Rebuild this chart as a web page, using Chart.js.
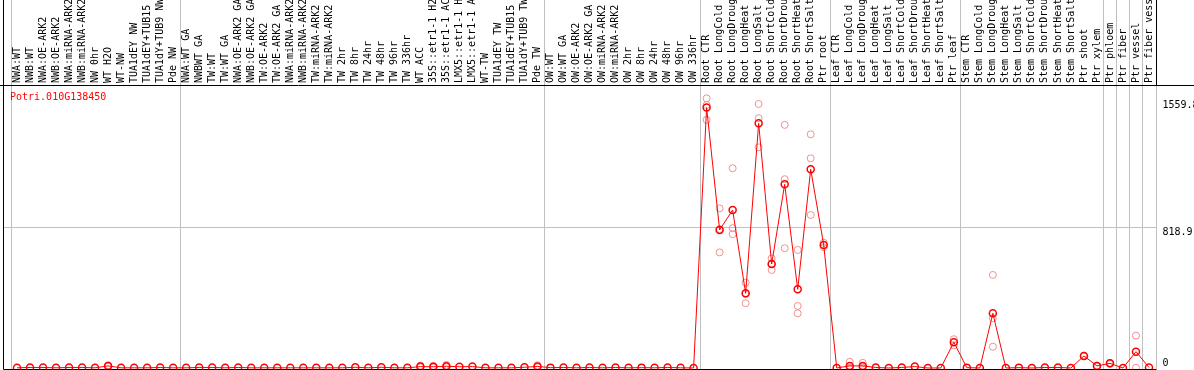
<!DOCTYPE html>
<html>
<head>
<meta charset="utf-8">
<script src="https://cdn.jsdelivr.net/npm/chart.js@4"></script>
<style>
  html, body { margin: 0; padding: 0; background: #fff; }
</style>
</head>
<body>
<canvas id="efpChart" width="1194" height="370"></canvas>
<script>
const geneId = "Potri.010G138450";

const samples = [
    "NWA:WT", "NWB:WT", "NWA:OE-ARK2", "NWB:OE-ARK2", "NWA:miRNA-ARK2", "NWB:miRNA-ARK2",
    "NW 0hr", "WT H2O", "WT-NW", "TUA1dEY NW", "TUA1dEY+TUB15 NW", "TUA1dY+TUB9 NW", "Pde NW",
    "NWA:WT GA", "NWBWT GA", "TW:WT", "TW:WT GA", "NWA:OE-ARK2 GA", "NWB:OE-ARK2 GA",
    "TW:OE-ARK2", "TW:OE-ARK2 GA", "NWA:miRNA-ARK2 GA", "NWB:miRNA-ARK2 GA", "TW:miRNA-ARK2",
    "TW:miRNA-ARK2 GA", "TW 2hr", "TW 8hr", "TW 24hr", "TW 48hr", "TW 96hr", "TW 336hr", "WT ACC",
    "35S::etr1-1 H2O", "35S::etr1-1 ACC", "LMX5::etr1-1 H2O", "LMX5::etr1-1 ACC", "WT-TW",
    "TUA1dEY TW", "TUA1dEY+TUB15 TW", "TUA1dY+TUB9 TW", "Pde TW",
    "OW:WT", "OW:WT GA", "OW:OE-ARK2", "OW:OE-ARK2 GA", "OW:miRNA-ARK2", "OW:miRNA-ARK2 GA",
    "OW 2hr", "OW 8hr", "OW 24hr", "OW 48hr", "OW 96hr", "OW 336hr",
    "Root CTR", "Root LongCold", "Root LongDrought", "Root LongHeat", "Root LongSalt",
    "Root ShortCold", "Root ShortDrought", "Root ShortHeat", "Root ShortSalt", "Ptr root",
    "Leaf CTR", "Leaf LongCold", "Leaf LongDrought", "Leaf LongHeat", "Leaf LongSalt",
    "Leaf ShortCold", "Leaf ShortDrought", "Leaf ShortHeat", "Leaf ShortSalt", "Ptr leaf",
    "Stem CTR", "Stem LongCold", "Stem LongDrought", "Stem LongHeat", "Stem LongSalt",
    "Stem ShortCold", "Stem ShortDrought", "Stem ShortHeat", "Stem ShortSalt",
    "Ptr shoot", "Ptr xylem", "Ptr phloem", "Ptr fiber", "Ptr vessel", "Ptr fiber vessel"
];

// boundaries between sample groups (in category units)
const groupEdges = [-0.5, 12.5, 40.5, 52.5, 62.5, 72.5, 83.5, 84.5, 85.5, 86.5, 87.5];

const meanValues = [
    1, 3, 3, 1, 3, 3, 1, 12, 1, 1, 1, 3, 1,
    1, 3, 3, 1, 3, 1, 1, 1, 1, 1, 1, 1, 1, 4, 1, 4, 1, 1, 8, 7, 10, 7, 8, 1, 1, 1, 4, 9,
    2, 3, 1, 3, 1, 3, 1, 2, 1, 3, 1, 0,
    1520, 806, 922, 436, 1428, 607, 1072, 459, 1160, 718,
    0, 12, 12, 3, 0, 3, 8, 0, 0, 150,
    2, 0, 319, 0, 2, 0, 3, 3, 0, 70, 12, 27, 0, 95, 3
];

// individual replicate values, keyed by sample index
const replicateValues = {
    7: [16, 10, 10],
    31: [14, 5, 5],
    32: [12, 5, 4],
    33: [18, 6, 6],
    40: [16, 6, 5],
    53: [1574, 1535, 1448],
    54: [932, 811, 675],
    55: [1166, 816, 781],
    56: [498, 432, 378],
    57: [1541, 1458, 1288],
    58: [640, 607, 572],
    59: [1419, 1102, 699],
    60: [689, 362, 319],
    61: [1364, 1224, 893],
    62: [731, 705],
    64: [36, 0, 0],
    65: [30, 3, 3],
    72: [168, 132],
    75: [543, 290, 124],
    82: [72, 68],
    83: [14, 10],
    84: [30, 24],
    86: [189, 1]
};

const yTicks = [0, 818.9, 1559.8];
const yTickLabels = ["0", "818.9", "1559.8"];

const monoFont = { family: "'DejaVu Sans Mono', monospace", size: 10, lineHeight: 1 };

const meanPoints = meanValues.map((v, i) => ({ x: i, y: v }));
const replicatePoints = [];
Object.keys(replicateValues).forEach(key => {
    replicateValues[key].forEach(v => replicatePoints.push({ x: Number(key), y: v }));
});

const frameLines = {
    id: "frameLines",
    beforeDatasetsDraw(chart) {
        const { ctx, chartArea, scales } = chart;
        ctx.save();
        ctx.lineWidth = 1;
        ctx.strokeStyle = "#c0c0c0";
        groupEdges.forEach(edge => {
            const x = Math.round(scales.x.getPixelForValue(edge)) + 0.5;
            ctx.beginPath();
            ctx.moveTo(x, 0);
            ctx.lineTo(x, chartArea.bottom);
            ctx.stroke();
        });
        ctx.fillStyle = "#ff0000";
        ctx.font = "10px 'DejaVu Sans Mono', monospace";
        ctx.textBaseline = "middle";
        ctx.fillText(geneId, chartArea.left + 6, chartArea.top + 11);
        ctx.restore();
    },
    afterDatasetsDraw(chart) {
        const { ctx, chartArea, scales } = chart;
        ctx.save();
        ctx.lineWidth = 1;
        ctx.strokeStyle = "#000";
        const top = Math.round(chartArea.top) - 0.5;
        const bottom = Math.round(chartArea.bottom) + 0.5;
        const left = Math.round(chartArea.left) - 0.5;
        const lastEdge = Math.round(scales.x.getPixelForValue(87.5)) + 0.5;
        ctx.beginPath();
        ctx.moveTo(0, top);
        ctx.lineTo(chart.width, top);
        ctx.moveTo(left, 0);
        ctx.lineTo(left, bottom);
        ctx.moveTo(left, bottom);
        ctx.lineTo(lastEdge, bottom);
        ctx.moveTo(lastEdge, 0);
        ctx.lineTo(lastEdge, top);
        ctx.stroke();
        ctx.restore();
    }
};

const ctx = document.getElementById("efpChart").getContext("2d");

new Chart(ctx, {
    type: "line",
    data: {
        datasets: [
            {
                label: geneId,
                data: meanPoints,
                borderColor: "#ff0000",
                borderWidth: 1,
                tension: 0,
                pointRadius: 3.5,
                pointBorderWidth: 1.5,
                pointBorderColor: "#ff0000",
                pointBackgroundColor: "rgba(0,0,0,0)"
            },
            {
                label: "replicates",
                data: replicatePoints,
                showLine: false,
                pointRadius: 3.5,
                pointBorderWidth: 1,
                pointBorderColor: "#f09090",
                pointBackgroundColor: "rgba(0,0,0,0)"
            }
        ]
    },
    options: {
        responsive: false,
        animation: false,
        layout: { autoPadding: false, padding: { left: 4, right: 0, top: 0, bottom: 1 } },
        plugins: {
            legend: { display: false },
            tooltip: { enabled: false }
        },
        scales: {
            x: {
                type: "linear",
                position: "top",
                min: -1,
                max: 87.5,
                afterBuildTicks: scale => {
                    scale.ticks = samples.map((_, i) => ({ value: i }));
                },
                afterFit: scale => {
                    scale.height = 86;
                    scale.paddingLeft = 0;
                    scale.paddingRight = 0;
                },
                border: { display: false },
                grid: { display: false, drawTicks: false },
                ticks: {
                    autoSkip: false,
                    minRotation: 90,
                    maxRotation: 90,
                    padding: 3,
                    labelOffset: 10,
                    color: "#000",
                    font: monoFont,
                    callback: value => samples[value]
                }
            },
            y: {
                type: "linear",
                position: "right",
                min: -6,
                max: 1646,
                afterBuildTicks: scale => {
                    scale.ticks = yTicks.map(v => ({ value: v }));
                },
                afterFit: scale => {
                    scale.width = 38.5;
                    scale.paddingTop = 0;
                    scale.paddingBottom = 0;
                },
                border: { display: false },
                grid: {
                    drawTicks: false,
                    color: c => (c.tick && c.tick.value === 818.9 ? "#c0c0c0" : "rgba(0,0,0,0)")
                },
                ticks: {
                    padding: 7,
                    color: "#000",
                    font: monoFont,
                    callback: (value, index) => (value === 0 ? ["0", ""] : ["", yTickLabels[index]])
                }
            }
        }
    },
    plugins: [frameLines]
});
</script>
</body>
</html>
